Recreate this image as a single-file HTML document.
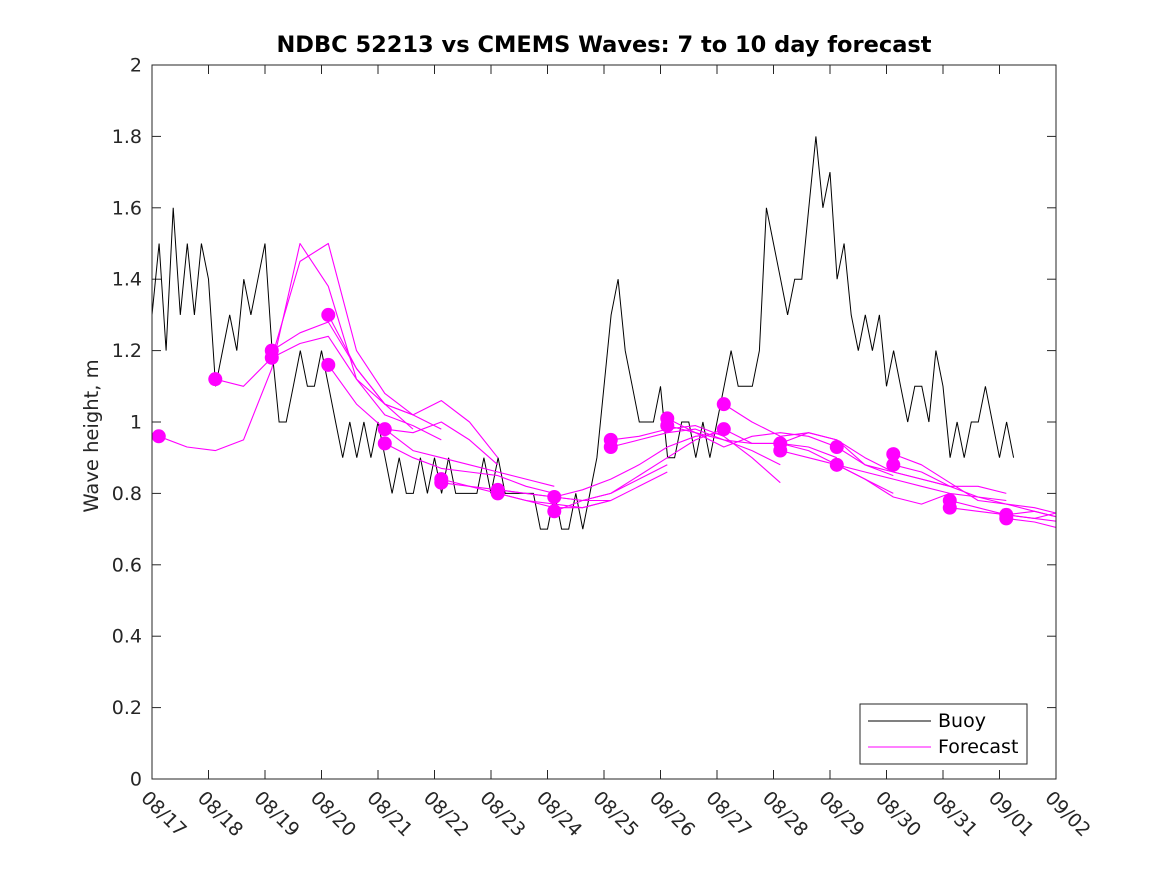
<!DOCTYPE html>
<html><head><meta charset="utf-8"><style>
html,body{margin:0;padding:0;background:#fff;}
svg{display:block;font-family:"DejaVu Sans","Liberation Sans",sans-serif;}
</style></head><body>
<svg id="chart" width="1167" height="875" viewBox="0 0 1167 875" xmlns="http://www.w3.org/2000/svg">
<rect x="0" y="0" width="1167" height="875" fill="#fff"/>
<defs><clipPath id="clip"><rect x="152" y="65" width="904" height="714"/></clipPath></defs>
<rect x="152" y="65" width="904" height="714" fill="#fff"/>
<text x="604" y="52" text-anchor="middle" font-size="22.5" font-weight="bold" fill="#000">NDBC 52213 vs CMEMS Waves: 7 to 10 day forecast</text>
<text transform="translate(98,436) rotate(-90)" text-anchor="middle" font-size="19.5" fill="#262626">Wave height, m</text>
<g id="ticks"></g>
<g id="series" clip-path="url(#clip)"></g>
<rect x="152" y="65" width="904" height="714" fill="none" stroke="#262626" stroke-width="1"/>
<g>
<rect x="860" y="704" width="167" height="60" fill="#fff" stroke="#262626" stroke-width="1"/>
<line x1="868" y1="721" x2="931" y2="721" stroke="#000" stroke-width="1"/>
<text x="938" y="727" font-size="19" fill="#000">Buoy</text>
<line x1="868" y1="747" x2="931" y2="747" stroke="#ff00ff" stroke-width="1"/>
<text x="938" y="753" font-size="19" fill="#000">Forecast</text>
</g>
</svg>
<script>
const xLabels = ["08/17","08/18","08/19","08/20","08/21","08/22","08/23","08/24","08/25","08/26","08/27","08/28","08/29","08/30","08/31","09/01","09/02"];
const yTicks = [0,0.2,0.4,0.6,0.8,1,1.2,1.4,1.6,1.8,2];
const yTickLabels = ["0","0.2","0.4","0.6","0.8","1","1.2","1.4","1.6","1.8","2"];
// buoy values every 3 hours starting 08/17 00:00
const buoyStep = 0.125;
const buoy = [1.3,1.5,1.2,1.6,1.3,1.5,1.3,1.5,
 1.4,1.1,1.2,1.3,1.2,1.4,1.3,1.4,
 1.5,1.2,1.0,1.0,1.1,1.2,1.1,1.1,
 1.2,1.1,1.0,0.9,1.0,0.9,1.0,0.9,
 1.0,0.9,0.8,0.9,0.8,0.8,0.9,0.8,
 0.9,0.8,0.9,0.8,0.8,0.8,0.8,0.9,
 0.8,0.9,0.8,0.8,0.8,0.8,0.8,0.7,
 0.7,0.8,0.7,0.7,0.8,0.7,0.8,0.9,
 1.1,1.3,1.4,1.2,1.1,1.0,1.0,1.0,
 1.1,0.9,0.9,1.0,1.0,0.9,1.0,0.9,
 1.0,1.1,1.2,1.1,1.1,1.1,1.2,1.6,
 1.5,1.4,1.3,1.4,1.4,1.6,1.8,1.6,
 1.7,1.4,1.5,1.3,1.2,1.3,1.2,1.3,
 1.1,1.2,1.1,1.0,1.1,1.1,1.0,1.2,
 1.1,0.9,1.0,0.9,1.0,1.0,1.1,1.0,
 0.9,1.0,0.9];
// forecasts: start day offsets and values every half day
const fcStep = 0.5;
const fcStarts = [0.12,1.12,2.12,2.12,3.12,3.12,4.12,4.12,5.12,5.12,6.12,6.12,7.12,7.12,8.12,8.12,9.12,9.12,10.12,10.12,11.12,11.12,12.12,12.12,13.12,13.12,14.12,14.12,15.12,15.12];
const fcValues = [
 [0.96,0.93,0.92,0.95,1.15,1.50,1.38,1.12,1.05,0.98],
 [1.12,1.10,1.18,1.45,1.50,1.20,1.08,1.02],
 [1.20,1.25,1.28,1.15,1.05,1.02,0.98],
 [1.18,1.22,1.24,1.12,1.02,0.99,0.95],
 [1.30,1.15,1.05,1.02,1.06,1.00,0.90],
 [1.16,1.05,0.98,0.97,1.00,0.95,0.88],
 [0.98,0.92,0.90,0.88,0.86,0.84,0.82],
 [0.94,0.90,0.87,0.86,0.85,0.82,0.80],
 [0.84,0.82,0.81,0.80,0.79,0.78,0.78],
 [0.83,0.82,0.80,0.78,0.77,0.76,0.78],
 [0.81,0.80,0.79,0.78,0.80,0.84,0.88],
 [0.80,0.78,0.76,0.76,0.78,0.82,0.86],
 [0.79,0.81,0.84,0.88,0.93,0.96,0.97],
 [0.75,0.78,0.80,0.85,0.90,0.95,0.98],
 [0.95,0.96,0.98,0.99,0.96,0.90,0.83],
 [0.93,0.95,0.97,0.98,0.95,0.92,0.88],
 [1.01,0.97,0.95,0.94,0.94,0.93,0.90],
 [0.99,0.97,0.93,0.96,0.97,0.96,0.93],
 [1.05,1.00,0.96,0.97,0.95,0.88,0.85],
 [0.98,0.94,0.94,0.92,0.88,0.84,0.80],
 [0.94,0.97,0.95,0.90,0.86,0.84,0.82],
 [0.92,0.90,0.88,0.84,0.79,0.77,0.80],
 [0.93,0.88,0.86,0.84,0.82,0.82,0.80],
 [0.88,0.86,0.84,0.82,0.80,0.79,0.78],
 [0.91,0.88,0.83,0.78,0.77,0.76,0.74],
 [0.88,0.86,0.82,0.79,0.77,0.75,0.73],
 [0.78,0.76,0.74,0.73,0.72,0.71,0.70],
 [0.76,0.75,0.74,0.75,0.73,0.70,0.67],
 [0.74,0.73,0.75,0.75],
 [0.73,0.72,0.70,0.65]
];
const NS = "http://www.w3.org/2000/svg";
const X0 = 152, X1 = 1056, Y0 = 779, Y1 = 65;
function xs(d){ return X0 + d * (X1 - X0) / (xLabels.length - 1); }
function ys(v){ return Y0 - v * (Y0 - Y1) / 2; }
function mk(tag, attrs, parent){ const e = document.createElementNS(NS, tag); for (const k in attrs) e.setAttribute(k, attrs[k]); parent.appendChild(e); return e; }
const ticks = document.getElementById('ticks');
const series = document.getElementById('series');
yTicks.forEach((v, i) => {
  const y = ys(v);
  const t1 = mk('line', {x1: X0, y1: y, x2: X0 + 9, y2: y, stroke: '#262626'}, ticks);
  
  
  const t2 = mk('line', {x1: X1, y1: y, x2: X1 - 9, y2: y, stroke: '#262626'}, ticks);
  
  
  const tx = mk('text', {x: X0 - 10, y: y + 6.5, 'text-anchor': 'end', 'font-size': 19, fill: '#262626'}, ticks);
  tx.textContent = yTickLabels[i];
  
  
});
xLabels.forEach((lab, i) => {
  const x = xs(i);
  const t1 = mk('line', {x1: x, y1: Y0, x2: x, y2: Y0 - 9, stroke: '#262626'}, ticks);
  
  
  const t2 = mk('line', {x1: x, y1: Y1, x2: x, y2: Y1 + 9, stroke: '#262626'}, ticks);
  
  
  const tx = mk('text', {transform: 'translate(' + (x - 12) + ',' + 799 + ') rotate(45)', 'font-size': 19, fill: '#262626'}, ticks);
  tx.textContent = lab;
  
  
});
const bp = buoy.map((v, i) => xs(i * buoyStep).toFixed(1) + ',' + ys(v).toFixed(1)).join(' ');
const bl = mk('polyline', {points: bp, fill: 'none', stroke: '#000', 'stroke-width': 1}, series);


fcValues.forEach((vals, k) => {
  const s = fcStarts[k];
  const pts = vals.map((v, i) => xs(s + i * fcStep).toFixed(1) + ',' + ys(v).toFixed(1)).join(' ');
  const pl = mk('polyline', {points: pts, fill: 'none', stroke: '#ff00ff', 'stroke-width': 1.1, 'stroke-linejoin': 'round'}, series);
  
  
});
fcValues.forEach((vals, k) => {
  const c = mk('circle', {cx: xs(fcStarts[k]), cy: ys(vals[0]), r: 7, fill: '#ff00ff'}, series);
  
  
});
</script>
</body></html>
